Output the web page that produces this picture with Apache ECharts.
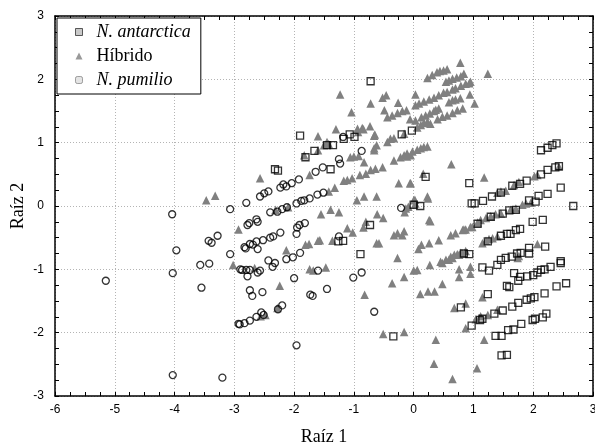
<!DOCTYPE html>
<html>
<head>
<meta charset="utf-8">
<script src="https://cdn.jsdelivr.net/npm/echarts@6.0.0/dist/echarts.min.js"></script>
<style>
  html, body { margin: 0; padding: 0; background: #fff; }
  #chart { width: 595px; height: 448px; }
</style>
</head>
<body>
<div id="chart"></div>
<script>
  // axis ticks
  const xTicks = [-6, -5, -4, -3, -2, -1, 0, 1, 2, 3]
  const yTicks = [-3, -2, -1, 0, 1, 2, 3]
  const seriesNames = ['N. antarctica', 'Híbrido', 'N. pumilio']

  // N. antarctica (squares) [Raíz 1, Raíz 2]
  const antarctica = [
    [-0.72, 1.97], [-1.9, 1.11], [-2.32, 0.58], [-2.27, 0.56], [-1.81, 0.77], [-1.66, 0.87], [-1.45, 0.96], [-1.35, 0.96],
    [-1.17, 1.06], [-1.07, 1.13], [-0.99, 1.09], [-1.39, 0.58], [-0.2, 1.13], [-0.03, 1.19], [0.0, 0.02], [0.11, 0.0],
    [-0.73, -0.3], [-1.26, -0.56], [-1.18, -0.55], [-0.89, -0.76], [-0.34, -2.06], [0.2, 0.46], [0.93, 0.36],
    [2.13, 0.88], [2.24, 0.92], [2.32, 0.96], [2.39, 0.99], [2.46, 0.29], [2.67, 0.0],
    [0.97, 0.04], [1.02, 0.04], [1.16, 0.08], [1.31, 0.15], [1.46, 0.21], [1.65, 0.32], [1.78, 0.35], [1.89, 0.4],
    [2.13, 0.5], [2.24, 0.57], [2.37, 0.61], [2.43, 0.63],
    [1.07, -0.28], [1.29, -0.17], [1.49, -0.12], [1.6, -0.07], [1.71, -0.06], [1.93, 0.09], [2.04, 0.07], [2.09, 0.16], [2.24, 0.19],
    [1.99, -0.25], [2.16, -0.22],
    [1.24, -0.56], [1.46, -0.47], [1.56, -0.44], [1.62, -0.44], [1.71, -0.38], [1.78, -0.36], [1.93, -0.66], [2.2, -0.64],
    [1.15, -0.97], [1.26, -1.02], [1.4, -0.93], [1.46, -0.85], [1.54, -0.82], [1.64, -0.8], [1.73, -0.75], [1.79, -0.74], [1.93, -0.75],
    [1.68, -1.06], [1.78, -1.12], [1.9, -1.11], [2.0, -1.09], [2.07, -1.05], [2.13, -1.01], [2.19, -1.0], [2.29, -0.96], [2.46, -0.87], [2.46, -0.9],
    [0.84, -0.75], [0.93, -0.76], [1.56, -1.26], [1.6, -1.28], [1.75, -1.18],
    [1.24, -1.39], [0.79, -1.6], [0.97, -1.89], [1.11, -1.8], [1.15, -1.78], [1.35, -1.7], [1.49, -1.65], [1.65, -1.59], [1.75, -1.53],
    [1.89, -1.48], [1.96, -1.46], [2.02, -1.44], [2.19, -1.38], [2.39, -1.27], [2.55, -1.22],
    [1.37, -2.05], [1.47, -2.05], [1.58, -1.96], [1.67, -1.95], [1.8, -1.86], [1.99, -1.8], [2.03, -1.78], [2.16, -1.76], [2.22, -1.7],
    [1.47, -2.36], [1.56, -2.35]
  ]

  // Híbrido (triangles)
  const hibrido = [
    [-3.47, 0.09], [-3.32, 0.16], [-2.93, -0.37], [-3.02, -0.93], [-2.57, 0.44], [-1.6, 1.1], [-1.3, 1.21], [-1.23, 1.76],
    [-1.04, 1.48], [-0.72, 1.62], [-0.52, 1.71], [-0.46, 1.75], [-0.26, 1.63], [-0.49, 1.51], [-0.06, 1.37], [0.03, 1.76],
    [-0.44, 1.4], [-0.36, 1.43], [-0.27, 1.47], [-0.19, 1.5], [-0.12, 1.51],
    [-0.84, 1.21], [-0.73, 1.26], [-0.93, 1.17], [-0.66, 1.11], [-0.66, 0.91], [-0.62, 0.96], [-1.45, 1.01], [-1.5, 0.96], [-1.42, 0.98],
    [-1.83, 0.8], [-1.74, 0.49], [-1.6, 0.88], [-1.06, 0.77], [-1.0, 0.78], [-0.92, 0.79], [-0.83, 0.69],
    [-1.17, 0.4], [-1.11, 0.41], [-1.03, 0.44], [-0.9, 0.49], [-0.8, 0.51], [-0.72, 0.57], [-0.64, 0.59], [-0.52, 0.61],
    [-0.33, 0.72], [-0.22, 0.77], [-0.11, 0.78], [-0.05, 0.8],
    [-0.25, 0.36], [-0.06, 0.36], [-1.32, 0.29], [-1.42, 0.23], [-0.95, 0.09], [-0.83, 0.15], [-0.62, 0.15], [0.0, 0.09],
    [-0.94, 1.22], [-0.86, 1.23], [-0.65, 1.13], [-0.66, 0.88], [-0.44, 1.01], [-0.39, 1.06], [-0.33, 1.07], [-0.16, 1.14],
    [0.78, 2.26], [1.24, 2.09], [0.23, 2.02], [0.31, 2.07], [0.39, 2.11], [0.44, 2.13], [0.5, 2.14], [0.56, 2.16],
    [0.54, 1.96], [0.59, 1.98], [0.65, 2.01], [0.72, 2.03], [0.79, 2.05], [0.84, 2.09], [0.93, 1.94],
    [0.03, 1.59], [0.09, 1.62], [0.17, 1.65], [0.26, 1.68], [0.34, 1.71], [0.42, 1.75], [0.5, 1.79], [0.56, 1.8], [0.65, 1.84],
    [0.7, 1.86], [0.79, 1.9], [0.87, 1.93], [0.95, 1.96],
    [0.59, 1.64], [0.65, 1.67], [0.7, 1.68], [0.78, 1.7], [1.02, 1.62], [0.94, 1.76], [0.37, 1.52],
    [0.06, 1.24], [0.12, 1.28], [0.17, 1.31], [0.23, 1.33], [0.28, 1.3],
    [0.4, 1.37], [0.48, 1.41], [0.56, 1.43], [0.65, 1.47], [0.73, 1.51], [0.82, 1.54],
    [0.03, 1.35], [0.13, 1.4], [0.2, 1.43], [0.27, 1.46], [0.34, 1.5], [0.42, 1.54],
    [-0.16, 0.8], [-0.11, 0.83], [-0.02, 0.86], [0.06, 0.89], [0.12, 0.91], [0.17, 0.93], [0.23, 0.94],
    [0.63, 0.66], [0.16, 0.51], [-0.05, 0.36], [1.18, 0.45], [0.23, 0.15], [0.03, 0.04], [-0.13, -0.04], [0.02, 0.1], [0.24, 0.12],
    [0.26, -0.22], [0.28, -0.24], [-0.16, -0.4], [0.42, -0.54], [0.26, -0.59], [0.13, -0.61], [0.62, -0.46], [0.7, -0.43],
    [0.84, -0.37], [0.95, -0.33], [0.82, -0.38], [0.87, -0.37], [0.98, -0.33],
    [0.06, -1.01], [0.0, -1.02], [0.27, -0.93], [0.45, -0.88], [0.54, -0.85], [0.62, -0.8], [0.68, -0.77], [0.73, -0.76],
    [0.79, -0.74], [0.87, -0.71], [0.76, -1.0], [0.95, -0.96],
    [1.07, -0.26], [1.12, -0.22], [1.21, -0.19], [1.29, -0.16], [1.37, -0.13], [1.46, -0.12], [1.62, -0.06], [1.71, -0.04],
    [1.82, 0.02], [1.88, 0.04], [1.96, 0.05],
    [1.4, 0.21], [1.46, 0.23], [1.54, 0.24], [1.68, 0.33], [1.76, 0.38], [2.02, 0.47], [2.07, 0.49], [2.43, 0.62],
    [1.15, -0.59], [1.21, -0.55], [1.26, -0.52], [1.32, -0.51], [1.4, -0.48], [1.76, -0.79], [1.74, -0.82], [2.07, -0.6],
    [-0.16, -1.12], [0.48, -0.9], [0.59, -0.85], [0.65, -0.82], [0.76, -0.77], [0.82, -0.75], [0.76, -1.12], [0.95, -1.07],
    [0.48, -1.23], [0.11, -1.39], [0.24, -1.35], [0.35, -1.35], [0.68, -1.61], [0.87, -1.54], [0.87, -1.93], [1.15, -1.44],
    [0.37, -2.11], [-0.16, -1.99], [1.18, -2.11], [0.34, -2.49], [1.06, -2.56], [0.65, -2.73],
    [1.04, -1.79], [1.12, -1.74], [1.24, -1.72], [1.4, -1.64],
    [-2.24, -1.26], [-2.13, -0.7], [-1.81, -0.61], [-1.75, -0.6], [-1.6, -0.55], [-1.57, -0.54], [-1.55, -0.13], [-1.39, -0.06],
    [-1.25, -0.1], [-1.36, -0.55], [-1.11, -0.35], [-1.02, -0.42],
    [-1.74, -1.0], [-1.68, -1.02], [-1.47, -0.97], [-0.8, -0.25], [-0.84, -0.34], [-0.61, -0.13], [-0.51, -0.19],
    [-0.62, -0.59], [-0.58, -0.59], [-0.36, -1.22], [-0.82, -1.4], [-0.51, -2.02], [-0.27, -0.82], [-0.09, -0.01],
    [-0.33, -0.46], [-0.27, -0.43], [-0.19, -0.46], [-0.15, -0.1], [0.08, -0.68],
    [-2.56, -1.74], [-2.48, -1.72], [-2.28, -1.61], [-2.66, -0.98], [-2.1, -0.02], [-2.31, -0.06]
  ]

  // N. pumilio (circles)
  const pumilio = [
    [-5.15, -1.18], [-4.03, -1.06], [-3.97, -0.7], [-3.55, -1.29], [-3.57, -0.93], [-3.42, -0.91], [-3.43, -0.55], [-3.38, -0.58],
    [-3.28, -0.47], [-3.07, -0.76], [-2.9, -1.0], [-2.93, -1.86], [-4.03, -2.67], [-3.2, -2.71], [-4.04, -0.13], [-3.07, -0.05],
    [-2.8, 0.05], [-2.57, 0.15], [-2.5, 0.2], [-2.43, 0.23],
    [-2.78, -0.3], [-2.75, -0.27], [-2.63, -0.21], [-2.61, -0.25], [-2.4, -0.1], [-2.28, -0.09], [-2.2, -0.05], [-2.12, -0.02],
    [-1.96, 0.04], [-1.88, 0.08], [-1.83, 0.09], [-1.74, 0.12], [-1.61, 0.18], [-1.51, 0.21],
    [-2.83, -0.65], [-2.81, -0.67], [-2.74, -0.6], [-2.69, -0.61], [-2.63, -0.56], [-2.61, -0.68], [-2.52, -0.54], [-2.4, -0.5],
    [-2.35, -0.48], [-2.23, -0.42], [-1.95, -0.34], [-1.91, -0.3], [-1.82, -0.27], [-1.96, -0.44],
    [-2.43, -0.86], [-2.32, -0.9], [-2.36, -0.96], [-2.13, -0.84], [-2.02, -0.81], [-1.9, -0.74],
    [-2.87, -1.01], [-2.8, -1.01], [-2.74, -1.01], [-2.78, -1.11], [-2.61, -1.05], [-2.57, -1.02],
    [-2.74, -1.33], [-2.7, -1.42], [-2.53, -1.36], [-2.0, -1.14], [-1.73, -1.4], [-1.69, -1.42], [-1.45, -1.31],
    [-2.91, -1.87], [-2.83, -1.85], [-2.74, -1.81], [-2.63, -1.75], [-2.55, -1.68], [-2.51, -1.72], [-2.27, -1.63], [-2.2, -1.57],
    [-1.6, -1.02], [-1.01, -1.13], [-0.87, -1.05], [-0.66, -1.67], [-1.25, -0.48], [-0.21, -0.03], [-1.96, -2.2],
    [-2.23, 0.29], [-2.18, 0.34], [-2.13, 0.31], [-2.04, 0.36], [-1.92, 0.42], [-1.64, 0.54], [-1.52, 0.61], [-1.25, 0.74],
    [-1.23, 0.67], [-1.18, 1.09], [-0.87, 0.87]
  ]

  const myChart = echarts.init(document.getElementById('chart'))

  const axisBase = {
    type: 'value',
    interval: 1,
    axisLine: { show: true, onZero: false, lineStyle: { color: '#000', width: 1.5 } },
    axisTick: { show: true, inside: true, length: 4, lineStyle: { color: '#000' } },
    minorTick: { show: true, splitNumber: 4, length: 4, lineStyle: { color: '#000' } },
    splitLine: { show: false },
    axisLabel: { show: false }
  }
  const gridLine = { show: true, lineStyle: { color: '#b4b4b4', type: [1, 2], width: 1 } }
  const tickLabel = { color: '#000', fontSize: 12, fontFamily: 'Liberation Sans, Arial' }
  const nameStyle = { color: '#000', fontSize: 18, fontFamily: 'Liberation Serif, Times New Roman' }

  const option = {
    animation: false,
    backgroundColor: '#fff',
    grid: { left: 55, right: 2, top: 16, bottom: 52, outerBoundsMode: 'none' },
    legend: {
      orient: 'vertical',
      left: 57,
      top: 18,
      padding: [5, 10, 5, 18],
      itemGap: 6,
      itemWidth: 7,
      itemHeight: 7,
      backgroundColor: '#fff',
      borderColor: '#000',
      borderWidth: 1,
      borderRadius: 0,
      textStyle: { color: '#000', fontSize: 18, lineHeight: 18, fontFamily: 'Liberation Serif, Times New Roman', padding: [0, 0, 0, 9] },
      data: [
        { name: seriesNames[0], icon: 'rect', itemStyle: { color: '#bbb', borderColor: '#333', borderWidth: 1 }, textStyle: { fontStyle: 'italic' } },
        { name: seriesNames[1], icon: 'triangle', itemStyle: { color: '#999', borderWidth: 0 } },
        { name: seriesNames[2], icon: 'roundRect', itemStyle: { color: '#ddd', borderColor: '#888', borderWidth: 1 }, textStyle: { fontStyle: 'italic' } }
      ]
    },
    xAxis: [
      Object.assign({}, axisBase, {
        position: 'bottom', min: xTicks[0], max: xTicks[xTicks.length - 1],
        splitLine: gridLine,
        axisLabel: Object.assign({ show: true, margin: 8 }, tickLabel),
        name: 'Raíz 1', nameLocation: 'middle', nameGap: 32, nameMoveOverlap: false, nameTextStyle: nameStyle
      }),
      Object.assign({}, axisBase, { position: 'top', min: xTicks[0], max: xTicks[xTicks.length - 1] })
    ],
    yAxis: [
      Object.assign({}, axisBase, {
        position: 'left', min: yTicks[0], max: yTicks[yTicks.length - 1],
        splitLine: gridLine,
        axisLabel: Object.assign({ show: true, margin: 11 }, tickLabel),
        name: 'Raíz 2', nameLocation: 'middle', nameGap: 28, nameRotate: 90, nameMoveOverlap: false, nameTextStyle: nameStyle
      }),
      Object.assign({}, axisBase, { position: 'right', min: yTicks[0], max: yTicks[yTicks.length - 1] })
    ],
    series: [
      {
        name: seriesNames[0], type: 'scatter', symbol: 'rect', symbolSize: 7,
        itemStyle: { color: 'rgba(255,255,255,0)', borderColor: '#000', borderWidth: 1.3 },
        data: antarctica, z: 3
      },
      {
        name: seriesNames[1], type: 'scatter', symbol: 'triangle', symbolSize: 8.5,
        itemStyle: { color: '#808080', opacity: 1 },
        data: hibrido, z: 2
      },
      {
        name: seriesNames[2], type: 'scatter', symbol: 'circle', symbolSize: 7,
        itemStyle: { color: 'rgba(255,255,255,0)', borderColor: '#000', borderWidth: 1.3 },
        data: pumilio, z: 3
      }
    ]
  }

  option && myChart.setOption(option)
</script>
</body>
</html>
